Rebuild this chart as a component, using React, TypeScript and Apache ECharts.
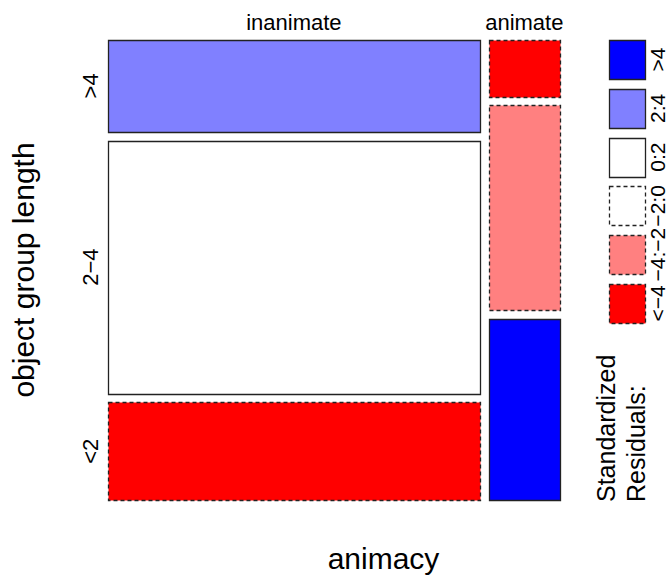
import React, { useEffect, useRef } from "react";
import * as echarts from "echarts";

// ---- data ----
const columnNames = ["inanimate", "animate"];
const rowNames = [">4", "2\u22124", "<2"];
const inanimateCounts = [1064, 2935, 1131];
const animateCounts = [126, 456, 403];
const legendLabels = [">4", "2:4", "0:2", "\u22122:0", "\u22124:\u22122", "<\u22124"];
const legendFills = ["#0000FF", "#8080FF", "#FFFFFF", "#FFFFFF", "#FF8080", "#FF0000"];
const legendDashed = [false, false, false, true, true, true];

// ---- layout ----
const FONT = '"Liberation Sans", Arial, Helvetica, sans-serif';
const GRID_LEFT = 108;
const GRID_TOP = 40;
const GRID_W = 452;
const GRID_H = 460;
const GAP = 8.8;
const STROKE = "#222222";
const LW = 1.3;
const DASH = [4, 3];

function residualClass(r: number): number {
  if (r > 4) return 0;
  if (r > 2) return 1;
  if (r > 0) return 2;
  if (r > -2) return 3;
  if (r > -4) return 4;
  return 5;
}

function snap(v: number): number {
  return Math.round(v) + 0.5;
}

function buildTiles() {
  const cols = [inanimateCounts, animateCounts];
  const colTotals = cols.map((c) => c.reduce((a, b) => a + b, 0));
  const N = colTotals.reduce((a, b) => a + b, 0);
  const rowTotals = rowNames.map((_, i) => cols.reduce((s, c) => s + c[i], 0));
  const availW = GRID_W - GAP * (cols.length - 1);
  const availH = GRID_H - GAP * (rowNames.length - 1);
  const tiles: number[][] = [];
  const colCenters: number[] = [];
  const rowCenters: number[] = [];
  let x = 0;
  cols.forEach((c, j) => {
    const w = (availW * colTotals[j]) / N;
    colCenters.push(x + w / 2);
    let y = 0;
    c.forEach((n, i) => {
      const h = (availH * n) / colTotals[j];
      const E = (rowTotals[i] * colTotals[j]) / N;
      const r = (n - E) / Math.sqrt(E);
      tiles.push([x, y, x + w, y + h, residualClass(r)]);
      if (j === 0) rowCenters.push(y + h / 2);
      y += h + GAP;
    });
    x += w + GAP;
  });
  return { tiles, colCenters, rowCenters };
}

export default function App() {
  const ref = useRef<HTMLDivElement>(null);
  useEffect(() => {
    if (!ref.current) return;
    const chart = echarts.init(ref.current, undefined, { renderer: "svg" });
    const { tiles, colCenters, rowCenters } = buildTiles();

    const labelItems: { value: number[]; text: string; rot: number }[] = [];
    colCenters.forEach((cx, j) =>
      labelItems.push({ value: [cx, -18], text: columnNames[j], rot: 0 })
    );
    rowCenters.forEach((cy, i) =>
      labelItems.push({ value: [-18, cy], text: rowNames[i], rot: Math.PI / 2 })
    );

    const BOX_TOP = 40;
    const BOX_H = 39;
    const BOX_STEP = 48.8;
    const legendGraphics: any[] = [];
    legendLabels.forEach((lab, k) => {
      const top = BOX_TOP + k * BOX_STEP;
      const y0 = snap(top);
      const y1 = snap(top + BOX_H);
      legendGraphics.push({
        type: "rect",
        shape: { x: 609.5, y: y0, width: 36, height: y1 - y0 },
        style: {
          fill: legendFills[k],
          stroke: STROKE,
          lineWidth: LW,
          lineDash: legendDashed[k] ? DASH : null,
        },
      });
      legendGraphics.push({
        type: "text",
        x: 657,
        y: top + BOX_H / 2,
        rotation: Math.PI / 2,
        style: {
          text: lab,
          fontSize: 21,
          fontFamily: FONT,
          fill: "#000",
          align: "center",
          verticalAlign: "middle",
        },
      });
    });

    chart.setOption({
      animation: false,
      backgroundColor: "#ffffff",
      grid: { left: GRID_LEFT, top: GRID_TOP, width: GRID_W, height: GRID_H },
      xAxis: { type: "value", min: 0, max: GRID_W, show: false },
      yAxis: { type: "value", min: 0, max: GRID_H, inverse: true, show: false },
      series: [
        {
          type: "custom",
          data: tiles,
          clip: false,
          renderItem: (params: any, api: any) => {
            const p0 = api.coord([api.value(0), api.value(1)]);
            const p1 = api.coord([api.value(2), api.value(3)]);
            const cls = api.value(4);
            const x0 = snap(p0[0]);
            const y0 = snap(p0[1]);
            const x1 = snap(p1[0]);
            const y1 = snap(p1[1]);
            return {
              type: "rect",
              shape: { x: x0, y: y0, width: x1 - x0, height: y1 - y0 },
              style: {
                fill: legendFills[cls],
                stroke: STROKE,
                lineWidth: LW,
                lineDash: legendDashed[cls] ? DASH : null,
              },
            };
          },
        },
        {
          type: "custom",
          data: labelItems.map((d) => d.value),
          clip: false,
          renderItem: (params: any, api: any) => {
            const item = labelItems[params.dataIndex];
            const p = api.coord([api.value(0), api.value(1)]);
            return {
              type: "text",
              x: p[0],
              y: p[1],
              rotation: item.rot,
              style: {
                text: item.text,
                fontSize: 22,
                fontFamily: FONT,
                fill: "#000",
                align: "center",
                verticalAlign: "middle",
              },
            };
          },
        },
      ],
      graphic: [
        {
          type: "text",
          x: 23.5,
          y: GRID_TOP + GRID_H / 2,
          rotation: Math.PI / 2,
          style: {
            text: "object group length",
            fontSize: 30,
            fontFamily: FONT,
            fill: "#000",
            align: "center",
            verticalAlign: "middle",
          },
        },
        {
          type: "text",
          x: 383.5,
          y: 558,
          style: {
            text: "animacy",
            fontSize: 30,
            fontFamily: FONT,
            fill: "#000",
            align: "center",
            verticalAlign: "middle",
          },
        },
        {
          type: "text",
          x: 606,
          y: 502,
          rotation: Math.PI / 2,
          style: {
            text: "Standardized",
            fontSize: 25,
            fontFamily: FONT,
            fill: "#000",
            align: "left",
            verticalAlign: "middle",
          },
        },
        {
          type: "text",
          x: 636,
          y: 502,
          rotation: Math.PI / 2,
          style: {
            text: "Residuals:",
            fontSize: 25,
            fontFamily: FONT,
            fill: "#000",
            align: "left",
            verticalAlign: "middle",
          },
        },
        ...legendGraphics,
      ],
    });
    return () => chart.dispose();
  }, []);
  return (
    <div
      ref={ref}
      style={{ position: "fixed", left: 0, top: 0, width: 668, height: 576 }}
    />
  );
}
